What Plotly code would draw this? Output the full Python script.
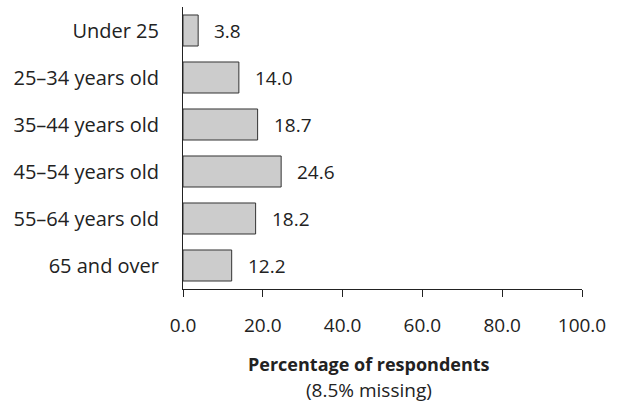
import plotly.graph_objects as go

categories = ["Under 25", "25\u201334 years old", "35\u201344 years old",
              "45\u201354 years old", "55\u201364 years old", "65 and over"]
values = [3.8, 14.0, 18.7, 24.6, 18.2, 12.2]
tick_vals = [0, 20, 40, 60, 80, 100]
tick_text = ["0.0", "20.0", "40.0", "60.0", "80.0", "100.0"]
axis_title = "Percentage of respondents"
axis_subtitle = "(8.5% missing)"

FONT = "Open Sans, sans-serif"
SZ = 19
fig = go.Figure()
fig.add_trace(go.Bar(
    x=values, y=categories, orientation="h",
    marker=dict(color="#cccccc", line=dict(color="#333333", width=1)),
    width=0.66, hoverinfo="skip",
))
for c, v in zip(categories, values):
    fig.add_annotation(x=v, y=c, text=f"{v:.1f}", showarrow=False,
                       xanchor="left", xshift=14,
                       font=dict(family=FONT, size=SZ, color="#222222"))

fig.add_annotation(xref="paper", yref="paper", x=0.466, y=0, yshift=-75,
                   xanchor="center", yanchor="middle", showarrow=False,
                   text=f"<b>{axis_title}</b>",
                   font=dict(family=FONT, size=18, color="#222222"))
fig.add_annotation(xref="paper", yref="paper", x=0.466, y=0, yshift=-101,
                   xanchor="center", yanchor="middle", showarrow=False,
                   text=axis_subtitle,
                   font=dict(family=FONT, size=19, color="#222222"))

fig.update_layout(
    width=618, height=404,
    margin=dict(l=183, r=36, t=7, b=115, autoexpand=False),
    plot_bgcolor="white", paper_bgcolor="white",
    showlegend=False,
    font=dict(family=FONT, size=SZ, color="#222222"),
    xaxis=dict(range=[0, 100], tickvals=tick_vals, ticktext=tick_text,
               showgrid=False, zeroline=False, showline=True,
               linecolor="#222222", linewidth=1, automargin=False,
               ticks="outside", ticklen=7, tickcolor="#222222",
               ticklabelstandoff=12, ticklabeloverflow="allow"),
    yaxis=dict(categoryorder="array", categoryarray=categories,
               autorange="reversed", range=[5.5, -0.5], automargin=False,
               showgrid=False, zeroline=False, showline=True,
               linecolor="#222222", linewidth=1, ticks="",
               ticklabelstandoff=19, tickfont=dict(size=20)),
)
fig.write_html("out.html", post_script="document.body.style.margin='0';",
               config={"displayModeBar": False})
